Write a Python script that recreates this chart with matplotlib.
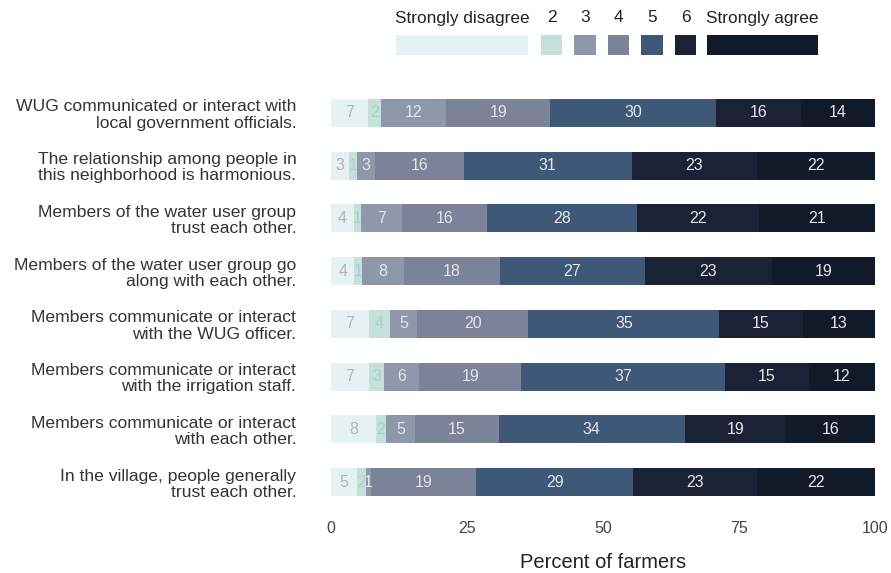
import matplotlib.pyplot as plt
from matplotlib.patches import Rectangle

plt.rcParams['font.family'] = ['Liberation Sans', 'DejaVu Sans']

# Statements (top to bottom)
statements = [
    'WUG communicated or interact with\nlocal government officials.',
    'The relationship among people in\nthis neighborhood is harmonious.',
    'Members of the water user group\ntrust each other.',
    'Members of the water user group go\nalong with each other.',
    'Members communicate or interact\nwith the WUG officer.',
    'Members communicate or interact\nwith the irrigation staff.',
    'Members communicate or interact\nwith each other.',
    'In the village, people generally\ntrust each other.',
]

levels = ['Strongly disagree', '2', '3', '4', '5', '6', 'Strongly agree']

# Percent of farmers per response level, one list per statement
pct = [
    [6.8, 2.4, 12.0, 19.1, 30.5, 15.6, 13.6],
    [3.3, 1.4, 3.4, 16.3, 30.9, 23.0, 21.7],
    [4.2, 1.4, 7.4, 15.7, 27.6, 22.4, 21.3],
    [4.3, 1.4, 7.7, 17.6, 26.8, 23.2, 19.0],
    [7.0, 3.8, 5.1, 20.4, 35.1, 15.3, 13.3],
    [7.0, 2.8, 6.4, 18.8, 37.4, 15.4, 12.2],
    [8.2, 1.9, 5.4, 15.3, 34.2, 18.6, 16.4],
    [4.8, 1.6, 0.9, 19.4, 28.8, 22.8, 21.7],
]

colors = ['#e6f2f2', '#c5e0d8', '#8f97ab', '#7c8297', '#3f5878', '#1b2236', '#121a2a']
text_colors = ['#b5b5b5', '#a8d2c6', '#e4e6ec', '#e4e6ec', '#e4e6ec', '#e4e6ec', '#e4e6ec']

fig = plt.figure(figsize=(8.91, 5.73), dpi=100)
ax = fig.add_axes([0.3715, 0.1127, 0.6105, 0.7362])

for i, row in enumerate(pct):
    left = 0
    for j, v in enumerate(row):
        ax.barh(i, v, left=left, height=0.53, color=colors[j], linewidth=0)
        ax.text(left + v / 2, i, f'{round(v)}', ha='center', va='center',
                fontsize=11.5, color=text_colors[j])
        left += v

ax.set_xlim(0, 100)
ax.set_ylim(7.5, -0.5)
ax.set_yticks(range(len(statements)))
ax.set_yticklabels(statements, fontsize=12.6, color='#333333', ha='right',
                   linespacing=1.1)
ax.set_xticks([0, 25, 50, 75, 100])
ax.tick_params(axis='x', length=0, pad=9, labelsize=11.5, labelcolor='#444444')
ax.tick_params(axis='y', length=0, pad=25)
ax.set_xlabel('Percent of farmers', fontsize=14.5, color='#222222', labelpad=12)
for s in ax.spines.values():
    s.set_visible(False)

# legend drawn by hand: label above each key
W, H = 891, 573
keys = [(396, 528), (541, 562), (574, 596), (608, 629), (641, 663), (675, 696), (707, 818)]
for (x0, x1), lab, c in zip(keys, levels, colors):
    fig.patches.append(Rectangle((x0 / W, 1 - 55 / H), (x1 - x0) / W, 20 / H,
                                 transform=fig.transFigure, color=c, linewidth=0))
    fig.text((x0 + x1) / 2 / W, 1 - 18 / H, lab, ha='center', va='center',
             fontsize=12.4, color='#222222')

fig.savefig('out.png', dpi=100)
